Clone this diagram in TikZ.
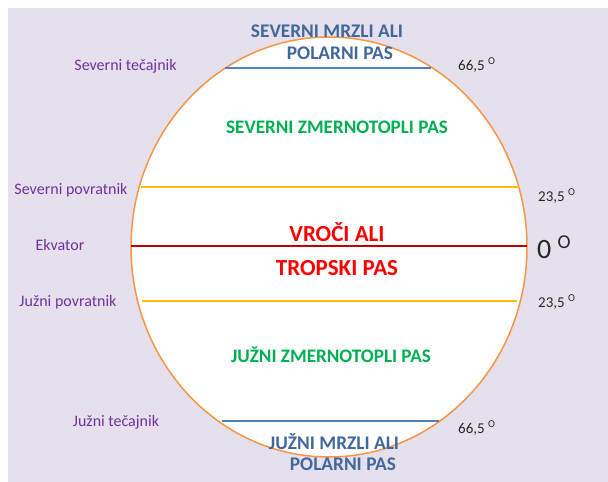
\documentclass[tikz,border=0pt]{standalone}
\usepackage{fontspec}
\setmainfont{Carlito}
\usetikzlibrary{shapes.geometric}
\definecolor{bgl}{HTML}{E5E0EC}
\definecolor{lblpurple}{HTML}{7030A0}
\definecolor{polblue}{HTML}{41689C}
\definecolor{linblue}{HTML}{4F7FBF}
\definecolor{zgreen}{HTML}{00B050}
\definecolor{zred}{HTML}{FF0000}
\definecolor{eqred}{HTML}{C00000}
\definecolor{yel}{HTML}{FFC000}
\definecolor{orng}{HTML}{F79646}
\definecolor{deg}{HTML}{262626}
\begin{document}
\begin{tikzpicture}[x=1pt,y=-1pt,
  side/.style={text=lblpurple,font=\fontsize{16}{19}\selectfont,inner sep=0pt},
  degl/.style={text=deg,font=\fontsize{15}{18}\selectfont,inner sep=0pt,anchor=base west},
  polar/.style={text=polblue,font=\bfseries\fontsize{19.3}{23}\selectfont,inner sep=0pt},
  temp/.style={text=zgreen,font=\bfseries\fontsize{19.1}{23}\selectfont,inner sep=0pt},
  trop/.style={text=zred,font=\bfseries\fontsize{23}{27}\selectfont,inner sep=0pt},
  lat/.style={line width=2pt}]
\useasboundingbox (0,0) rectangle (608,482);
\fill[white] (0,0) rectangle (608,482);
\fill[bgl] (8,8) rectangle (608,482);
\node[draw=orng,fill=white,line width=1.5pt,ellipse,minimum width=396pt,minimum height=420pt,inner sep=0pt] (globe) at (329,247) {};
% latitude lines
\coordinate (ntL) at (225,68);  \coordinate (ntR) at (431,68);
\coordinate (npL) at (141,187); \coordinate (npR) at (519,187);
\coordinate (eqL) at (131,246); \coordinate (eqR) at (527,246);
\coordinate (spL) at (142,301); \coordinate (spR) at (517,301);
\coordinate (stL) at (222,421); \coordinate (stR) at (439,421);
\draw[lat,linblue] (ntL) -- (ntR);
\draw[lat,yel] (npL) -- (npR);
\draw[line width=1.5pt,eqred] (eqL) -- (eqR);
\draw[lat,yel] (spL) -- (spR);
\draw[lat,linblue] (stL) -- (stR);
% zone texts
\node[polar] (np1) at (327,31) {SEVERNI MRZLI ALI};
\node[polar] (np2) at (340,53) {POLARNI PAS};
\node[temp] (nt) at (337,127) {SEVERNI ZMERNOTOPLI PAS};
\node[trop] (tr1) at (337,232) {VROČI ALI};
\node[trop] (tr2) at (337,268) {TROPSKI PAS};
\node[temp] (st) at (331,355) {JUŽNI ZMERNOTOPLI PAS};
\node[polar] (sp1) at (334,442) {JUŽNI MRZLI ALI};
\node[polar] (sp2) at (343,464) {POLARNI PAS};
% side labels
\node[side] (l1) at (125.5,66) {Severni tečajnik};
\node[side] (l2) at (71,190) {Severni povratnik};
\node[side] (l3) at (60,245) {Ekvator};
\node[side] (l4) at (68,302) {Južni povratnik};
\node[side] (l5) at (116,422) {Južni tečajnik};
% degrees
\node[degl] (d1) at (458,70) {66,5 \textsuperscript{O}};
\node[degl] (d2) at (538,201) {23,5 \textsuperscript{O}};
\node[degl,font=\fontsize{28}{32}\selectfont] (d3) at (537,258) {0 \textsuperscript{O}};
\node[degl] (d4) at (538,307) {23,5 \textsuperscript{O}};
\node[degl] (d5) at (458,433) {66,5 \textsuperscript{O}};
\end{tikzpicture}
\end{document}
